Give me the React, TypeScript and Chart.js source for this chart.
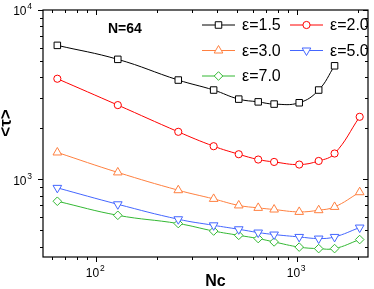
import React, { useEffect, useRef } from 'react';
import { Chart, registerables } from 'chart.js';
import { drawPoint } from 'chart.js/helpers';

Chart.register(...registerables);

// ---- data ----
const ncValues = [64, 128, 256, 384, 512, 640, 768, 1024, 1280, 1536, 2048];
const tauEps15 = [6180, 5110, 3855, 3365, 2974, 2865, 2780, 2830, 3365, 4680];
const tauEps20 = [3925, 2742, 1906, 1567, 1405, 1307, 1265, 1221, 1282, 1419, 2338];
const tauEps30 = [1439, 1097, 861, 765, 700, 677, 662, 641, 656, 686, 838];
const tauEps50 = [889, 711, 580, 534, 506, 484, 471, 456, 446, 456, 518];
const tauEps70 = [741, 612, 547, 494, 466, 446, 426, 397, 389, 389, 440];
const seriesLabels = ['ε=1.5', 'ε=2.0', 'ε=3.0', 'ε=5.0', 'ε=7.0'];
const xMajorTicks = [100, 1000];
const yMajorTicks = [1000, 10000];
const xRange = [54.3, 2253];
const yRange = [347, 10000];

const seriesColors = ['#000000', '#ff0000', '#ff8040', '#4466ff', '#33b833'];
const seriesStyles = [
  { pointStyle: 'rect', rotation: 0, radius: 4.6 },
  { pointStyle: 'circle', rotation: 0, radius: 3.6 },
  { pointStyle: 'triangle', rotation: 0, radius: 5 },
  { pointStyle: 'triangle', rotation: 180, radius: 5 },
  { pointStyle: 'rectRot', rotation: 0, radius: 4.3 },
];
const seriesValues = [tauEps15, tauEps20, tauEps30, tauEps50, tauEps70];

const FONT = 'Arial, "Liberation Sans", sans-serif';

function minorValues(min: number, max: number): number[] {
  const out: number[] = [];
  for (let d = Math.floor(Math.log10(min)); d <= Math.ceil(Math.log10(max)); d++) {
    for (let k = 1; k <= 9; k++) {
      const v = k * Math.pow(10, d);
      if (v >= min * 0.999 && v <= max * 1.001) out.push(v);
    }
  }
  return out;
}

const framePlugin = {
  id: 'originFrame',
  afterDraw(chart: any) {
    const { ctx, chartArea } = chart;
    const { left, right, top, bottom } = chartArea;
    const xs = chart.scales.x;
    const ys = chart.scales.y;
    ctx.save();
    ctx.strokeStyle = '#000';
    ctx.fillStyle = '#000';
    ctx.lineWidth = 1.2;
    ctx.strokeRect(left, top, right - left, bottom - top);

    const majorLen = 5;
    const minorLen = 3;
    ctx.lineWidth = 1;
    for (const v of minorValues(xRange[0], xRange[1])) {
      const isMajor = xMajorTicks.includes(v);
      const len = isMajor ? majorLen : minorLen;
      const px = Math.round(xs.getPixelForValue(v)) + 0.5;
      ctx.beginPath();
      ctx.moveTo(px, bottom);
      ctx.lineTo(px, bottom + len);
      ctx.moveTo(px, top);
      ctx.lineTo(px, top + len);
      ctx.stroke();
    }
    for (const v of minorValues(yRange[0], yRange[1])) {
      const isMajor = yMajorTicks.includes(v);
      const len = isMajor ? majorLen : minorLen;
      const py = Math.round(ys.getPixelForValue(v)) + 0.5;
      ctx.beginPath();
      ctx.moveTo(left, py);
      ctx.lineTo(left - len, py);
      ctx.moveTo(right, py);
      ctx.lineTo(right - len, py);
      ctx.stroke();
    }

    const drawPow = (exp: string, cx: number, cy: number, align: 'center' | 'right') => {
      ctx.font = '12px ' + FONT;
      const wBase = ctx.measureText('10').width;
      ctx.font = '8.5px ' + FONT;
      const wExp = ctx.measureText(exp).width;
      const total = wBase + 0.8 + wExp;
      const x0 = align === 'center' ? cx - total / 2 : cx - total;
      ctx.textAlign = 'left';
      ctx.textBaseline = 'middle';
      ctx.font = '12px ' + FONT;
      ctx.fillText('10', x0, cy + 2);
      ctx.font = '8.5px ' + FONT;
      ctx.fillText(exp, x0 + wBase + 0.8, cy - 3);
    };
    for (const v of xMajorTicks) {
      const px = xs.getPixelForValue(v);
      drawPow(String(Math.round(Math.log10(v))), px - 1, bottom + 15, 'center');
    }
    for (const v of yMajorTicks) {
      const py = ys.getPixelForValue(v);
      drawPow(String(Math.round(Math.log10(v))), left - 11, py, 'right');
    }

    ctx.font = 'bold 16px ' + FONT;
    ctx.textAlign = 'center';
    ctx.textBaseline = 'middle';
    ctx.fillText('Nc', (left + right) / 2 + 10, 282);
    ctx.save();
    ctx.translate(6, 123);
    ctx.rotate(-Math.PI / 2);
    ctx.font = 'bold 17px ' + FONT;
    ctx.fillText('<τ>', 0, 0);
    ctx.restore();

    ctx.font = 'bold 14px ' + FONT;
    ctx.textAlign = 'left';
    ctx.fillText('N=64', 108, 29);

    const colX = [202, 290];
    for (let i = 0; i < seriesLabels.length; i++) {
      const col = i % 2;
      const row = Math.floor(i / 2);
      const x0 = colX[col];
      const y = 25 + row * 25.5;
      ctx.strokeStyle = seriesColors[i];
      ctx.lineWidth = 1;
      ctx.beginPath();
      ctx.moveTo(x0, y);
      ctx.lineTo(x0 + 33, y);
      ctx.stroke();
      ctx.fillStyle = '#ffffff';
      drawPoint(ctx, { ...seriesStyles[i], borderWidth: 1 } as any, x0 + 16.5, y);
      ctx.fillStyle = '#000';
      ctx.font = '16px ' + FONT;
      ctx.textAlign = 'left';
      ctx.textBaseline = 'middle';
      ctx.fillText(seriesLabels[i], x0 + 40, y + 1);
    }
    ctx.restore();
  },
};

export default function App() {
  const canvasRef = useRef<HTMLCanvasElement | null>(null);
  useEffect(() => {
    const canvas = canvasRef.current;
    if (!canvas) return;
    const datasets = seriesValues.map((vals, i) => ({
      label: seriesLabels[i],
      data: vals.map((y, j) => ({ x: ncValues[j], y })),
      borderColor: seriesColors[i],
      borderWidth: 1,
      backgroundColor: '#ffffff',
      pointBackgroundColor: '#ffffff',
      pointBorderColor: seriesColors[i],
      pointBorderWidth: 1,
      pointStyle: seriesStyles[i].pointStyle as any,
      rotation: seriesStyles[i].rotation,
      pointRadius: seriesStyles[i].radius,
      tension: 0.42,
      fill: false,
      clip: false as any,
    }));
    const chart = new Chart(canvas, {
      type: 'line',
      data: { datasets },
      options: {
        responsive: false,
        animation: false,
        events: [],
        layout: { padding: { left: 43, right: 2, top: 10, bottom: 32 } },
        plugins: { legend: { display: false }, tooltip: { enabled: false } },
        scales: {
          x: { type: 'logarithmic', min: xRange[0], max: xRange[1], display: false },
          y: { type: 'logarithmic', min: yRange[0], max: yRange[1], display: false },
        },
      },
      plugins: [framePlugin],
    });
    return () => chart.destroy();
  }, []);
  return (
    <div style={{ position: 'fixed', left: 0, top: 0, width: 374, height: 289, background: '#fff' }}>
      <canvas ref={canvasRef} width={374} height={289} style={{ display: 'block' }} />
    </div>
  );
}
